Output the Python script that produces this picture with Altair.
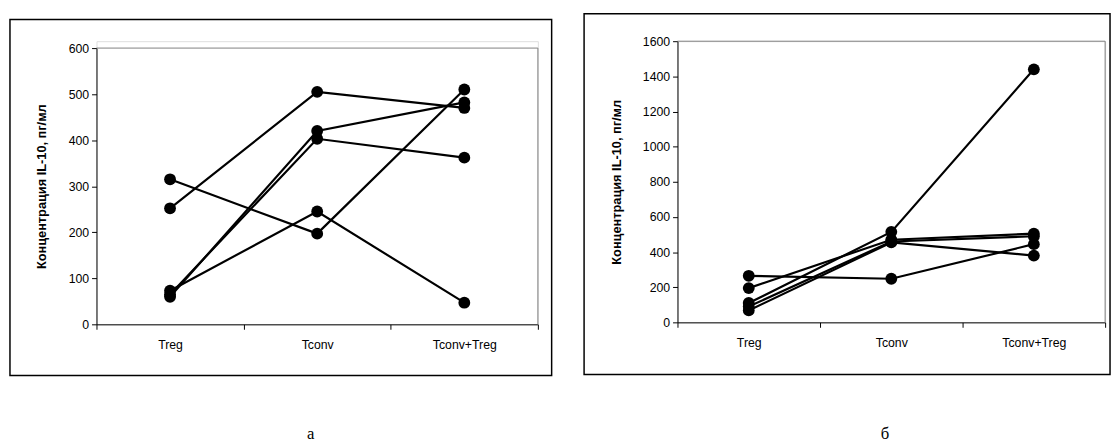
import altair as alt
import pandas as pd

categories = ["Treg", "Tconv", "Tconv+Treg"]

# Panel а
left_s1 = [252, 505, 470]
left_s2 = [315, 197, 510]
left_s3 = [60, 420, 482]
left_s4 = [65, 403, 362]
left_s5 = [73, 245, 47]
left_ticks = [0, 100, 200, 300, 400, 500, 600]

# Panel б
right_s1 = [265, 248, 445]
right_s2 = [195, 470, 505]
right_s3 = [110, 515, 1440]
right_s4 = [90, 460, 490]
right_s5 = [68, 455, 380]
right_ticks = [0, 200, 400, 600, 800, 1000, 1200, 1400, 1600]

y_title = "Концентрация IL-10, пг/мл"
FONT = "Liberation Sans"


def long_df(series_list):
    rows = []
    for i, s in enumerate(series_list):
        for c, v in zip(categories, s):
            rows.append({"series": f"s{i+1}", "group": c, "value": v})
    return pd.DataFrame(rows)


def panel(df, ticks, ymax, w, h, top, fx0, fx1, fy0, fy1, letter, lx, ly, title_pad):
    x = alt.X("group:N", sort=categories, bandPosition=0.5,
              scale=alt.Scale(type="band", paddingInner=0, paddingOuter=0),
              axis=alt.Axis(title=None, tickBand="extent", labelAngle=0, grid=False,
                            domainColor="black", tickColor="black", tickSize=5,
                            labelPadding=10, labelFont=FONT, labelFontSize=12.5,
                            labelColor="black"))
    y = alt.Y("value:Q", scale=alt.Scale(domain=[0, ymax], nice=False, range=[h, top]),
              axis=alt.Axis(values=ticks, format="d", title=y_title, grid=False,
                            domainColor="black", tickColor="black", tickSize=5,
                            labelPadding=3, labelFont=FONT, labelFontSize=12.5,
                            labelColor="black", titleFont=FONT, titleFontSize=13,
                            titleFontWeight="bold", titleColor="black",
                            titlePadding=title_pad))
    base = alt.Chart(df)
    lines = base.mark_line(color="black", strokeWidth=2.2).encode(x=x, y=y, detail="series:N")
    pts = base.mark_circle(color="black", opacity=1, size=145).encode(x=x, y=y, detail="series:N")
    one = alt.Chart(alt.Data(values=[{"k": 1}]))
    frame = one.mark_rect(filled=False, stroke="black", strokeWidth=1.5).encode(
        x=alt.value(fx0), x2=alt.value(fx1), y=alt.value(fy0), y2=alt.value(fy1))
    spacer = one.mark_rule(strokeOpacity=0).encode(
        x=alt.value(0), y=alt.value(-28), y2=alt.value(0))
    border_top = one.mark_rule(color="#808080", strokeWidth=1).encode(
        x=alt.value(0), x2=alt.value(w), y=alt.value(top))
    border_right = one.mark_rule(color="#808080", strokeWidth=1).encode(
        x=alt.value(w), y=alt.value(top), y2=alt.value(h))
    label = one.mark_text(font="Liberation Serif", fontSize=17, color="black",
                          baseline="middle", align="center").encode(
        x=alt.value(lx), y=alt.value(ly), text=alt.value(letter))
    return alt.layer(frame, spacer, border_top, border_right, lines, pts, label).properties(
        width=w, height=h)


left = panel(long_df([left_s1, left_s2, left_s3, left_s4, left_s5]), left_ticks, 600,
             449, 288, 7, -88, 463, -22, 340, "а", 218, 400, 20)
right = panel(long_df([right_s1, right_s2, right_s3, right_s4, right_s5]), right_ticks, 1600,
              435, 286, 0, -95, 440, -28, 339, "б", 211, 400, 19)

chart = alt.hconcat(left, right, spacing=29).properties(
    padding={"left": 0, "top": 0, "right": 0, "bottom": 0}
).configure_view(strokeWidth=0).configure(background="white")

chart.save("out.html", embed_options={"renderer": "svg", "actions": False})
